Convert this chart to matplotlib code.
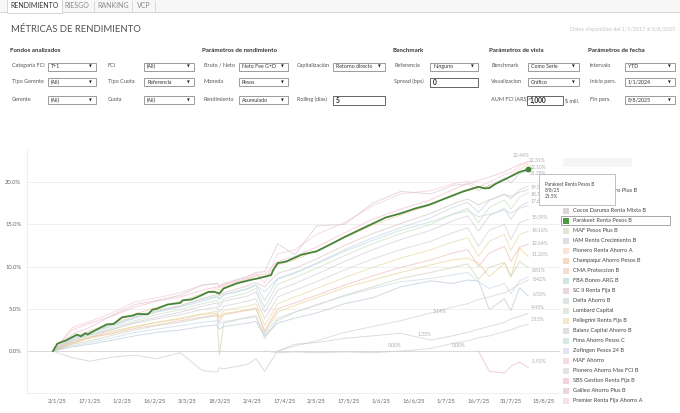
#-------------------------------------------------------------------------------
# plot.py - "Métricas de rendimiento" dashboard (YTD FCI T+1 returns)
#-------------------------------------------------------------------------------

import datetime as dt
import numpy as np
import matplotlib
matplotlib.use('Agg')
from matplotlib import pyplot as plt
from matplotlib import dates as mdates
from matplotlib.patches import Rectangle

plt.rcParams['font.family'] = ['Lato', 'DejaVu Sans']

W, H = 680, 413

#-------------------------------------------------------------------------------
# data
#-------------------------------------------------------------------------------

grid_dates = ['2024-12-31', '2025-01-09', '2025-01-17', '2025-01-28',
              '2025-02-07', '2025-02-17', '2025-02-28', '2025-03-10',
              '2025-03-17', '2025-03-18', '2025-03-20', '2025-03-31',
              '2025-04-04', '2025-04-08', '2025-04-14', '2025-04-22',
              '2025-05-02', '2025-05-15', '2025-05-28', '2025-06-10',
              '2025-06-24', '2025-07-04', '2025-07-11', '2025-07-16',
              '2025-07-21', '2025-07-28', '2025-07-31', '2025-08-04',
              '2025-08-08']

# top of the bundle
t1 = [0, 2.5, 3.3, 4.2, 5.2, 5.9, 6.4, 7.2, 7.6, 7.5, 7.8, 8.6, 9.0, 9.1, 10.6,
      11.2, 12.3, 14.0, 15.6, 16.8, 17.9, 19.1, 19.8, 20.2, 20.6, 21.2, 21.6,
      22.1, 22.44]
t2 = [0, 2.8, 3.5, 4.6, 5.8, 6.3, 6.9, 7.8, 8.0, 7.6, 7.9, 8.8, 9.2, 8.0, 11.5,
      12.0, 13.8, 15.2, 17.2, 18.6, 19.0, 19.8, 20.1, 19.4, 20.0, 20.9, 21.1,
      21.9, 22.31]
t3 = [0, 1.6, 2.4, 3.3, 4.4, 5.2, 5.9, 6.8, 7.4, 7.2, 7.6, 8.5, 8.9, 8.7, 10.2,
      10.8, 11.9, 13.4, 14.9, 16.1, 17.3, 18.5, 19.0, 19.3, 19.5, 20.3, 20.8,
      21.5, 22.10]
s1 = [0, 2.0, 2.8, 4.3, 5.5, 6.0, 6.6, 7.8, 8.0, 7.7, 8.0, 8.8, 9.3, 9.4, 12.7,
      11.4, 14.8, 15.0, 17.5, 18.9, 18.6, 19.6, 19.8, 19.0, 19.6, 20.5, 19.9,
      21.0, 21.28]
# middle of the bundle
m1 = [0, 1.4, 2.1, 3.0, 3.9, 4.6, 5.2, 5.9, 6.4, 6.1, 6.6, 7.3, 7.8, 6.0, 8.5,
      9.2, 10.4, 12.0, 13.4, 14.6, 15.8, 17.0, 17.6, 16.4, 17.8, 18.6, 18.0,
      19.1, 19.51]
m8 = [0, 1.6, 2.3, 3.2, 4.1, 4.8, 5.4, 6.2, 6.7, 6.5, 6.9, 7.7, 8.1, 7.6, 9.2,
      9.8, 10.9, 12.5, 13.9, 15.1, 16.3, 17.4, 18.0, 17.3, 17.9, 18.5, 18.3,
      18.8, 19.1]
m2 = [0, 1.2, 1.9, 2.8, 3.6, 4.3, 4.9, 5.6, 6.0, 5.6, 6.2, 6.9, 7.4, 5.2, 7.9,
      8.7, 9.8, 11.3, 12.7, 13.9, 15.0, 16.2, 16.9, 15.2, 17.0, 17.9, 16.8,
      18.2, 18.72]
m3 = [0, 1.0, 1.7, 2.6, 3.4, 4.0, 4.6, 5.3, 5.7, 5.2, 5.9, 6.5, 7.0, 4.6, 7.2,
      8.0, 9.1, 10.6, 12.0, 13.2, 14.3, 15.4, 16.0, 14.2, 16.0, 16.9, 15.6,
      17.1, 17.63]
m7 = [0, 1.5, 2.2, 3.1, 4.0, 4.7, 5.3, 6.1, 6.5, 6.2, 6.7, 7.4, 7.8, 7.0, 8.6,
      9.3, 10.3, 11.8, 13.1, 14.3, 15.3, 16.2, 16.6, 15.9, 16.2, 16.7, 16.3,
      16.9, 17.2]
m4 = [0, 1.3, 1.9, 2.6, 3.3, 3.8, 4.3, 4.9, 5.2, 4.6, 5.3, 5.9, 6.2, 3.8, 6.4,
      7.2, 8.2, 9.6, 10.9, 12.0, 13.0, 14.0, 14.6, 12.4, 14.3, 15.0, 13.2,
      15.2, 15.59]
m5 = [0, 0.9, 1.5, 2.2, 2.9, 3.4, 3.9, 4.4, 4.7, 4.0, 4.8, 5.3, 5.6, 3.0, 5.6,
      6.4, 7.4, 8.7, 9.9, 11.0, 12.0, 12.9, 13.4, 11.2, 13.0, 13.8, 11.9,
      13.8, 14.16]
m6 = [0, 1.1, 1.6, 2.1, 2.7, 3.1, 3.6, 4.0, 4.3, 3.4, 4.3, 4.8, 5.0, 2.4, 5.0,
      5.7, 6.6, 7.8, 8.9, 9.9, 10.8, 11.6, 12.0, 10.0, 11.6, 12.4, 10.6,
      12.3, 12.64]
m9 = [0, 0.8, 1.2, 1.9, 2.5, 3.0, 3.4, 3.9, 4.2, -0.5, 3.3, 4.0, 4.2, 1.5, 3.6,
      4.6, 5.4, 6.6, 7.6, 8.6, 9.3, 9.9, 10.3, 8.5, 9.9, 10.5, 8.8, 10.6, 9.9]
# lower lines
g1 = [0, 0.9, 1.6, 2.4, 2.9, 3.4, 3.8, 4.3, 4.5, 3.9, 4.4, 4.9, 5.1, 2.2, 4.6,
      5.4, 6.3, 7.5, 8.4, 9.3, 10.2, 10.8, 11.0, 10.4, 8.8, 10.4, 8.8, 12.2,
      11.20]
f1 = [0, 0.6, 1.0, 1.6, 2.2, 2.6, 3.0, 3.4, 3.6, 3.2, 3.5, 3.9, 4.0, 2.0, 3.9,
      4.6, 5.5, 6.5, 7.4, 8.2, 8.6, 9.0, 9.3, 8.2, 7.4, 8.0, 6.8, 8.3, 8.81]
d1 = [None, None, None, None, None, None, None, None, None, None, None, None,
      None, None, 0.0, 0.6, 1.2, 2.2, 2.9, 3.6, 4.5, 5.2, 5.6, 6.1, 6.4, 6.9,
      7.3, 7.9, 8.42]
e1 = [0, 0.5, 0.8, 1.3, 1.8, 2.2, 2.5, 2.9, 3.1, 2.6, 2.9, 3.3, 3.5, 1.8, 3.3,
      3.9, 4.5, 5.6, 6.3, 7.6, 8.3, 8.0, 8.4, 8.3, 4.9, 6.2, 4.8, 7.5, 6.53]
c1 = [0, -0.8, -1.2, -0.7, -0.5, -0.9, -0.2, -2.3, -2.5, -2.0, -2.1, -1.6,
      -0.9, -2.4, 0.0, 0.8, 1.0, 1.5, 1.8, 2.1, 1.3, 1.8, 2.2, 2.6, 2.9, 3.4,
      3.8, 4.1, 4.45]
b1 = [None, None, None, None, None, None, None, None, None, None, None, None,
      None, 0.0, -0.2, -0.1, -0.2, -0.1, -0.2, 0.0, 0.3, 0.9, 1.2, 1.6, 1.8,
      2.3, 2.5, 2.9, 3.15]
a1 = [None, None, None, None, None, None, None, None, None, None, None, None,
      None, None, None, None, None, None, None, None, None, None, None, 0.0,
      -2.4, -2.6, -1.8, -1.3, -1.93]

faint = [t1, t2, t3, s1, m1, m8, m2, m3, m7, m4, m5, m6, m9,
         g1, f1, d1, e1, c1, b1, a1]
faint_colors = ['#f4bfcb', '#f7cdd6', '#f8cfae', '#d9c9d0', '#c3d3ea',
                '#dcc6bf', '#c9e0c1', '#d8c9df', '#bfdcd8', '#d2d2d2',
                '#e6dca8', '#f1bcbc', '#cfd3b8', '#e8d58e', '#c9d9e6',
                '#d2d2d2', '#bccbd9', '#cdcdcd', '#cfcfcf', '#eab8c4']

green_dates = ['2024-12-31', '2025-01-02', '2025-01-06', '2025-01-09',
               '2025-01-11', '2025-01-13', '2025-01-15', '2025-01-16',
               '2025-01-21', '2025-01-25', '2025-01-28', '2025-02-01',
               '2025-02-06', '2025-02-08', '2025-02-13', '2025-02-15',
               '2025-02-17', '2025-02-22', '2025-02-28', '2025-03-01',
               '2025-03-05', '2025-03-08', '2025-03-13', '2025-03-16',
               '2025-03-18', '2025-03-20', '2025-03-26', '2025-04-02',
               '2025-04-05', '2025-04-11', '2025-04-12', '2025-04-14',
               '2025-04-18', '2025-04-25', '2025-05-02', '2025-05-09',
               '2025-05-15', '2025-05-24', '2025-06-03', '2025-06-10',
               '2025-06-17', '2025-06-23', '2025-06-29', '2025-07-09',
               '2025-07-16', '2025-07-19', '2025-07-21', '2025-07-24',
               '2025-07-30', '2025-08-04', '2025-08-08']
green_vals = [0, 0.87, 1.26, 1.66, 1.94, 1.74, 2.1, 1.95, 2.65, 3.16, 3.2,
              4.0, 4.2, 4.4, 4.35, 4.9, 5.0, 5.5, 5.7, 6.0, 6.1, 6.4, 7.0,
              7.0, 6.8, 7.4, 8.0, 8.45, 8.6, 9.0, 9.6, 10.4, 10.6, 11.4, 11.8,
              12.7, 13.5, 14.6, 15.8, 16.3, 16.9, 17.3, 17.9, 18.9, 19.45,
              19.25, 19.3, 19.8, 20.55, 21.2, 21.5]

end_labels = ['22.44%', '22.31%', '22.10%', '21.28%', '19.51%', '18.72%',
              '17.63%', '15.59%', '14.16%', '12.64%', '11.20%', '8.81%',
              '8.42%', '6.53%', '4.45%', '3.15%', '-1.93%']
end_label_vals = [22.44, 22.31, 22.10, 21.28, 19.51, 18.72, 17.63, 15.59,
                  14.16, 12.64, 11.20, 8.81, 8.42, 6.53, 4.45, 3.15, -1.93]
mid_labels = ['5.14%', '1.33%', '0.00%', '0.00%']
mid_label_dates = ['2025-06-28', '2025-06-21', '2025-06-07', '2025-07-07']
mid_label_vals = [4.65, 2.0, 0.7, 0.7]

tick_dates = ['2025-01-02', '2025-01-17', '2025-02-01', '2025-02-16',
              '2025-03-03', '2025-03-18', '2025-04-02', '2025-04-17',
              '2025-05-02', '2025-05-17', '2025-06-01', '2025-06-16',
              '2025-07-01', '2025-07-16', '2025-07-31', '2025-08-15']
y_ticks = [0, 5, 10, 15, 20]

legend_names = ['Consultatio Ahorro Plus B', 'Alpha Pesos B',
                'Cocos Daruma Renta Mixta B', 'Parakeet Renta Pesos B',
                'MAF Pesos Plus B', 'IAM Renta Crecimiento B',
                'Pionero Renta Ahorro A', 'Champaquí Ahorro Pesos B',
                'CMA Proteccion B', 'FBA Bonos ARG B', 'SC II Renta Fija B',
                'Delta Ahorro B', 'Lombard Capital', 'Pellegrini Renta Fija B',
                'Balanz Capital Ahorro B', 'Fima Ahorro Pesos C',
                'Zofingen Pesos 24 B', 'MAF Ahorro', 'Pionero Ahorro Max FCI B',
                'SBS Gestion Renta Fija B', 'Galileo Ahorro Plus B',
                'Premier Renta Fija Ahorro A']
legend_colors = ['#e6e6e6', '#e6e6e6', '#ddd5dc', '#4e9a42',
                 '#dfe8d8', '#e3dbe6', '#fbe4d3', '#f6d9c5', '#f9ded0',
                 '#d5e4e1', '#ead8dc', '#dde6df', '#dfe9dc', '#f1ebc9',
                 '#e2dce3', '#d6e8e2', '#e1e6f3', '#f6dce0', '#e6e3e6',
                 '#f4d4da', '#ecd6dc', '#f8e0e6']

#-------------------------------------------------------------------------------
# helpers (pixel positions of the dashboard frame)
#-------------------------------------------------------------------------------

def to_num(ds):
  return mdates.date2num([dt.datetime.strptime(d, '%Y-%m-%d') for d in ds])

def fx(x): return x / W
def fy(y): return 1 - y / H

def label(x, y, s, size=4.4, color='#555555', weight='normal', ha='left', z=3):
  fig.text(fx(x), fy(y), s, size=size, color=color, weight=weight, ha=ha,
           va='center', zorder=z)

def box(x0, x1, y0, y1, ec='#8c8c8c', fc='white', lw=0.6, z=2):
  fig.add_artist(Rectangle((fx(x0), fy(y1)), (x1 - x0) / W, (y1 - y0) / H,
                           transform=fig.transFigure, ec=ec, fc=fc, lw=lw,
                           zorder=z))

def dropdown(x0, x1, y, s):
  box(x0, x1, y - 4, y + 4)
  label(x0 + 3, y, s, size=3.8, color='#333333')
  label(x1 - 6, y + 0.3, '▼', size=2.6, color='#222222', ha='center')

def entry(x0, x1, y, s):
  box(x0, x1, y - 4.5, y + 4.5, ec='#666666', lw=0.7)
  label(x0 + 3, y, s, size=4.8, color='#222222', weight='bold')

#-------------------------------------------------------------------------------
# figure frame: tabs, title, filters
#-------------------------------------------------------------------------------

fig = plt.figure(figsize=(W / 100, H / 100), dpi=100)
fig.patch.set_facecolor('white')

box(0, W, -1, 12, ec='none', fc='#f7f7f7', z=1)
fig.add_artist(plt.Line2D([0, 1], [fy(12), fy(12)], transform=fig.transFigure,
                          color='#d0d0d0', lw=0.6))
box(7, 62, -1, 12.5, ec='#cfcfcf', fc='white', lw=0.6, z=2)
for x in [94, 132, 155]:
  fig.add_artist(plt.Line2D([fx(x), fx(x)], [fy(1), fy(12)],
                            transform=fig.transFigure, color='#d6d6d6', lw=0.6))
label(34.5, 6, 'RENDIMIENTO', size=5, color='#333333', ha='center')
label(77, 6, 'RIESGO', size=5, color='#8a8a8a', ha='center')
label(113, 6, 'RANKING', size=5, color='#8a8a8a', ha='center')
label(143.5, 6, 'VCP', size=5, color='#8a8a8a', ha='center')

label(11, 29.5, 'MÉTRICAS DE RENDIMIENTO', size=6.8, color='#505050')
label(675, 29.5, 'Datos disponibles del 1/1/2017 al 8/8/2025', size=3.9,
      color='#c4c4c4', ha='right')

for x, s in [(10, 'Fondos analizados'), (202, 'Parámetros de rendimiento'),
             (393, 'Benchmark'), (489, 'Parámetros de vista'),
             (588, 'Parámetros de fecha')]:
  label(x, 50.5, s, size=4.4, color='#333333', weight='bold')

rows = [65.8, 81.8, 99.6]
row_labels = [['Categoría FCI', 'FCI', 'Bruto / Neto', 'Capitalización',
               'Referencia', 'Benchmark', 'Intervalo'],
              ['Tipo Gerente', 'Tipo Cuota', 'Moneda', '', 'Spread (bps)',
               'Visualizacion', 'Inicio pers.'],
              ['Gerente', 'Cuota', 'Rendimiento', 'Rolling (días)', '',
               'AUM FCI (ARS)>', 'Fin pers.']]
label_x = [12, 108, 204, 297, 394, 491, 590]
for r, names in enumerate(row_labels):
  for x, s in zip(label_x, names):
    if s: label(x, rows[r] - 0.5, s, size=4.0, color='#555555')

box_y = [66.7, 82.2, 100.3]
dropdown(48, 96, box_y[0], 'T+1')
dropdown(144, 194, box_y[0], '(All)')
dropdown(239, 288, box_y[0], 'Neto Fee G+D')
dropdown(333, 385, box_y[0], 'Retorno directo')
dropdown(430, 478, box_y[0], 'Ninguno')
dropdown(528, 579, box_y[0], 'Como Serie')
dropdown(625, 675, box_y[0], 'YTD')
dropdown(48, 96, box_y[1], '(All)')
dropdown(144, 194, box_y[1], 'Referencia')
dropdown(239, 288, box_y[1], 'Pesos')
entry(430, 478, box_y[1], '0')
dropdown(528, 579, box_y[1], 'Gráfico')
dropdown(625, 675, box_y[1], '1/1/2024')
dropdown(48, 96, box_y[2], '(All)')
dropdown(144, 194, box_y[2], '(All)')
dropdown(239, 288, box_y[2], 'Acumulado')
entry(333, 385, box_y[2], '5')
entry(527, 563, box_y[2], '1,000')
label(565, box_y[2], '$ mill.', size=4.0, color='#555555')
dropdown(625, 675, box_y[2], '8/8/2025')

#-------------------------------------------------------------------------------
# line chart
#-------------------------------------------------------------------------------

d0 = to_num(['2025-01-02'])[0]
px_day = 2.16
ax = fig.add_axes([fx(27), fy(393), (560 - 27) / W, (393 - 150) / H])
ax.patch.set_alpha(0)

gx = to_num(grid_dates)
for vals, c in zip(faint, faint_colors):
  ax.plot(gx, np.array(vals, dtype=float), color=c, lw=0.7, alpha=0.7,
          zorder=2)

grx = to_num(green_dates)
ax.plot(grx, green_vals, color='#458537', lw=1.3, zorder=4)
ax.plot(grx[-1], green_vals[-1], 'o', ms=3.2, color='#458537', zorder=5)

end_x = gx[-1]
label_dy = [5.7, 1.8, -3.5, -1.8, -0.9, -1.2, 0.3, 1.6, 1.3, 1.2, 2.4, 6.6,
            0.9, 1.8, 5.7, 5.4, 5.6]
label_dx = [-15, 1, 2, 2, 2, 2, 2, 3, 3, 3, 3, 4, 5, 5, 3, 3, 3]
for s, v, dx, dy in zip(end_labels, end_label_vals, label_dx, label_dy):
  ax.annotate(s, (end_x, v), xytext=(dx * 0.72, dy * 0.72),
              textcoords='offset points', size=3.6, color='#ababab',
              va='center', ha='left', zorder=3)
for s, d, v in zip(mid_labels, to_num(mid_label_dates), mid_label_vals):
  ax.text(d, v, s, size=3.6, color='#ababab', ha='center', va='center')

ax.set_xlim(d0 + (27 - 57.3) / px_day, d0 + (560 - 57.3) / px_day)
ax.set_ylim(-4.97, 23.8)
tx = to_num(tick_dates)
ax.set_xticks(tx)
ax.set_xticklabels(['%d/%d/%d' % (d.day, d.month, d.year % 100)
                    for d in mdates.num2date(tx)])
ax.set_yticks(y_ticks)
ax.set_yticklabels(['%.1f%%' % v for v in y_ticks])
ax.tick_params(length=0, labelsize=4.2, labelcolor='#666666', pad=4)
for v in y_ticks:
  ax.axhline(v, color='#d9d9d9' if v == 0 else '#efefef', lw=0.7, zorder=1)
for side in ['top', 'right']:
  ax.spines[side].set_visible(False)
for side in ['left', 'bottom']:
  ax.spines[side].set_color('#ececec')
  ax.spines[side].set_linewidth(0.6)

#-------------------------------------------------------------------------------
# legend and tooltip
#-------------------------------------------------------------------------------

box(563, 632, 158, 167, ec='none', fc='#f5f5f5', z=2)
for i, (s, c) in enumerate(zip(legend_names, legend_colors)):
  y = 190.7 + 10 * i
  box(563, 569, y - 3, y + 3, ec='none', fc=c, z=4)
  label(573, y, s, size=4.1, color='#444444', z=4)
box(561, 670, 215.5, 225, ec='#999999', fc='none', lw=0.6, z=5)

box(539, 615, 174, 205, ec='#b5b5b5', fc='white', lw=0.6, z=8)
label(545, 184, 'Parakeet Renta Pesos B', size=3.4, color='#444444', z=9)
label(545, 190, '8/8/25', size=3.4, color='#444444', z=9)
label(545, 196, '21.5%', size=3.4, color='#444444', z=9)

fig.savefig('out.png', dpi=100)
